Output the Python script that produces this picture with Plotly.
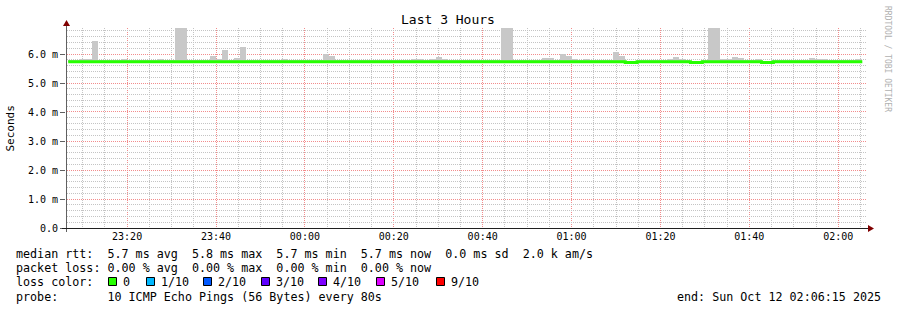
import math
import pandas as pd
import plotly.graph_objects as go

# ---------------- data ----------------
step_start = "2025-10-11 23:06:45"   # first 80 s step
step_seconds = 80
n_steps = 134

# median RTT per 80 s step (ms)
median_ms = [
    5.75, 5.75, 5.75, 5.75, 5.75, 5.75, 5.75, 5.75, 5.75, 5.75,
    5.75, 5.75, 5.75, 5.75, 5.75, 5.75, 5.75, 5.75, 5.75, 5.75,
    5.75, 5.75, 5.75, 5.75, 5.75, 5.75, 5.75, 5.75, 5.75, 5.75,
    5.75, 5.75, 5.75, 5.75, 5.75, 5.75, 5.75, 5.75, 5.75, 5.75,
    5.75, 5.75, 5.75, 5.75, 5.75, 5.75, 5.75, 5.75, 5.75, 5.75,
    5.75, 5.75, 5.75, 5.75, 5.75, 5.75, 5.75, 5.75, 5.75, 5.75,
    5.75, 5.75, 5.75, 5.75, 5.75, 5.75, 5.75, 5.75, 5.75, 5.75,
    5.75, 5.75, 5.75, 5.75, 5.75, 5.75, 5.75, 5.75, 5.75, 5.75,
    5.75, 5.75, 5.75, 5.75, 5.75, 5.75, 5.75, 5.75, 5.75, 5.75,
    5.75, 5.75, 5.75, 5.75, 5.72, 5.72, 5.75, 5.75, 5.75, 5.75,
    5.75, 5.75, 5.75, 5.75, 5.75, 5.72, 5.72, 5.75, 5.75, 5.75,
    5.75, 5.75, 5.75, 5.75, 5.75, 5.75, 5.75, 5.72, 5.72, 5.75,
    5.75, 5.75, 5.75, 5.75, 5.75, 5.75, 5.75, 5.75, 5.75, 5.75,
    5.75, 5.75, 5.75, 5.75,
]

# slowest ping per step (top of smoke, ms)
smoke_top_ms = [
    5.78, 5.78, 5.83, 5.83, 6.45, 5.78, 5.78, 5.78, 5.78, 5.83,
    5.78, 5.78, 5.78, 5.78, 5.78, 5.83, 5.78, 5.78, 7.20, 7.20,
    5.78, 5.78, 5.78, 5.78, 5.94, 5.83, 6.15, 5.78, 5.87, 6.25,
    5.78, 5.78, 5.78, 5.78, 5.78, 5.78, 5.83, 5.78, 5.78, 5.78,
    5.78, 5.78, 5.78, 6.01, 5.94, 5.78, 5.78, 5.78, 5.78, 5.78,
    5.78, 5.78, 5.78, 5.78, 5.78, 5.78, 5.78, 5.78, 5.83, 5.83,
    5.78, 5.83, 5.91, 5.83, 5.78, 5.78, 5.78, 5.78, 5.78, 5.78,
    5.78, 5.78, 5.78, 7.20, 7.20, 5.78, 5.78, 5.78, 5.78, 5.78,
    5.87, 5.87, 5.78, 6.03, 5.94, 5.83, 5.78, 5.83, 5.78, 5.78,
    5.78, 5.78, 6.07, 5.94, 5.75, 5.75, 5.78, 5.78, 5.78, 5.78,
    5.78, 5.83, 5.91, 5.83, 5.78, 5.75, 5.75, 5.78, 7.20, 7.20,
    5.83, 5.83, 5.91, 5.87, 5.78, 5.78, 5.83, 5.75, 5.75, 5.78,
    5.78, 5.78, 5.78, 5.78, 5.78, 5.87, 5.83, 5.83, 5.78, 5.78,
    5.78, 5.78, 5.78, 5.83,
]

y_tick_vals = [0, 1, 2, 3, 4, 5, 6]
y_tick_labels = ["0.0", "1.0 m", "2.0 m", "3.0 m", "4.0 m", "5.0 m", "6.0 m"]
x_tick_vals = ["2025-10-11 23:20", "2025-10-11 23:40", "2025-10-12 00:00",
               "2025-10-12 00:20", "2025-10-12 00:40", "2025-10-12 01:00",
               "2025-10-12 01:20", "2025-10-12 01:40", "2025-10-12 02:00"]
x_tick_labels = ["23:20", "23:40", "00:00", "00:20", "00:40", "01:00",
                 "01:20", "01:40", "02:00"]
x_range = ["2025-10-11 23:06:15", "2025-10-12 02:06:15"]

legend_lines = [
    "median rtt:  5.7 ms avg  5.8 ms max  5.7 ms min  5.7 ms now  0.0 ms sd  2.0 k am/s",
    "packet loss: 0.00 % avg  0.00 % max  0.00 % min  0.00 % now",
    "loss color:",
    "probe:       10 ICMP Echo Pings (56 Bytes) every 80s",
]
loss_labels = ["0", "1/10", "2/10", "3/10", "4/10", "5/10", "9/10"]
loss_colors = ["#26ff00", "#00b8ff", "#0059ff", "#5e00ff", "#7e00ff", "#dd00ff", "#ff0000"]
end_text = "end: Sun Oct 12 02:06:15 2025"

# ---------------- figure ----------------
W, H = 897, 310
L, R, T, B = 66, 866, 28, 229   # plot area in pixels
PX_PER_MS = 29.0                # vertical scale
Y0_PX = 228.5                   # pixel centre of value 0
FONT = "DejaVu Sans Mono"

y_lo = -(B - Y0_PX) / PX_PER_MS
y_hi = y_lo + (B - T) / PX_PER_MS

t0 = pd.Timestamp(x_range[0])
t1 = pd.Timestamp(x_range[1])


def px(x):
    return (x - L) / (R - L)


def py(y):
    return (B - y) / (B - T)


def time_to_px(t):
    return L + (pd.Timestamp(t) - t0) / (t1 - t0) * (R - L)


def val_to_px(v):
    return B - (v - y_lo) * PX_PER_MS


starts = pd.date_range(step_start, periods=n_steps, freq=f"{step_seconds}s")
centers = starts + pd.Timedelta(seconds=step_seconds / 2)
line_x = list(starts) + [starts[-1] + pd.Timedelta(seconds=step_seconds)]
line_y = median_ms + [median_ms[-1]]

fig = go.Figure()
fig.add_trace(go.Bar(
    x=centers, y=[t - m for t, m in zip(smoke_top_ms, median_ms)], base=median_ms,
    width=step_seconds * 1000, marker=dict(color="#c8c8c8", line=dict(width=0)),
    hoverinfo="skip", showlegend=False,
))
fig.add_trace(go.Scatter(
    x=line_x, y=line_y, mode="lines", line=dict(color="#26ff00", width=3, shape="hv"),
    hoverinfo="skip", showlegend=False,
))

fig.update_layout(
    width=W, height=H,
    margin=dict(l=L, r=W - R, t=T, b=H - B),
    paper_bgcolor="white", plot_bgcolor="white",
    bargap=0, showlegend=False,
    font=dict(family=FONT, size=10, color="#000000"),
    xaxis=dict(
        type="date", range=x_range,
        tickmode="array", tickvals=x_tick_vals, ticktext=x_tick_labels,
        showgrid=False, ticks="", showline=False, zeroline=False,
        tickfont=dict(family=FONT, size=10, color="#000000"),
    ),
    yaxis=dict(
        range=[y_lo, y_hi],
        tickmode="array", tickvals=y_tick_vals, ticktext=y_tick_labels,
        showgrid=False, ticks="outside", ticklen=5, tickcolor="#606060",
        showline=False, zeroline=False,
        tickfont=dict(family=FONT, size=10, color="#000000"),
    ),
)

major_grid = "#f28c8c"
minor_grid = "#c4c4c4"
dash = "1px,1px"

shapes = []
# grid, snapped to pixel centres (like rrdtool)
major_x = set(pd.to_datetime(x_tick_vals))
for t in pd.date_range("2025-10-11 23:10", "2025-10-12 02:05", freq="5min"):
    c = math.floor(time_to_px(t)) + 0.5
    col = major_grid if t in major_x else minor_grid
    shapes.append(dict(type="line", xref="paper", yref="paper", layer="below",
                       x0=px(c), x1=px(c), y0=py(T), y1=py(B - 1),
                       line=dict(color=col, width=1, dash=dash)))
for i in range(1, 35):
    v = i * 0.2
    c = math.floor(val_to_px(v) - 0.5) + 0.5
    col = major_grid if i % 5 == 0 else minor_grid
    shapes.append(dict(type="line", xref="paper", yref="paper", layer="below",
                       x0=px(L + 1), x1=px(R), y0=py(c), y1=py(c),
                       line=dict(color=col, width=1, dash=dash)))

# axis lines
shapes.append(dict(type="line", xref="paper", yref="paper",
                   x0=px(L + 0.5), x1=px(L + 0.5), y0=py(B + 3), y1=py(24),
                   line=dict(color="#606060", width=1)))
shapes.append(dict(type="line", xref="paper", yref="paper",
                   x0=px(L - 4), x1=px(869), y0=py(Y0_PX), y1=py(Y0_PX),
                   line=dict(color="#1f1f1f", width=1)))
# arrows
shapes.append(dict(type="path", xref="paper", yref="paper",
                   path=f"M {px(L-3)} {py(26)} L {px(L+4)} {py(26)} L {px(L+0.5)} {py(20)} Z",
                   fillcolor="#800000", line=dict(width=0)))
shapes.append(dict(type="path", xref="paper", yref="paper",
                   path=f"M {px(868)} {py(Y0_PX-3.5)} L {px(868)} {py(Y0_PX+3.5)} L {px(874)} {py(Y0_PX)} Z",
                   fillcolor="#800000", line=dict(width=0)))

annotations = []
annotations.append(dict(text="Last 3 Hours", x=px(448), y=py(20), xref="paper", yref="paper",
                        showarrow=False, xanchor="center", yanchor="middle",
                        font=dict(family=FONT, size=13, color="#000000")))
annotations.append(dict(text="Seconds", x=px(10.5), y=py(128), xref="paper", yref="paper",
                        showarrow=False, xanchor="center", yanchor="middle", textangle=-90,
                        font=dict(family=FONT, size=11, color="#000000")))
annotations.append(dict(text="RRDTOOL / TOBI OETIKER", x=px(887), y=py(59),
                        xref="paper", yref="paper", showarrow=False,
                        xanchor="center", yanchor="middle", textangle=90,
                        font=dict(family=FONT, size=8, color="#b0b0b0")))

line_px_y = [254, 268, 282, 296.5]
for text, yy in zip(legend_lines, line_px_y):
    annotations.append(dict(text=text.replace(" ", "&nbsp;"), x=px(15), y=py(yy),
                            xref="paper", yref="paper", showarrow=False,
                            xanchor="left", yanchor="middle", borderpad=0,
                            font=dict(family=FONT, size=11.7, color="#000000")))
annotations.append(dict(text=end_text.replace(" ", "&nbsp;"), x=px(882), y=py(296.5),
                        xref="paper", yref="paper", showarrow=False,
                        xanchor="right", yanchor="middle", borderpad=0,
                        font=dict(family=FONT, size=11.7, color="#000000")))

box_px = [108, 146, 203, 261, 318, 376, 436]
for bx, lab, col in zip(box_px, loss_labels, loss_colors):
    shapes.append(dict(type="rect", xref="paper", yref="paper",
                       x0=px(bx + 0.5), x1=px(bx + 8.5), y0=py(285.5), y1=py(277.5),
                       fillcolor=col, line=dict(color="#000000", width=1)))
    annotations.append(dict(text=lab, x=px(bx + 14), y=py(282), xref="paper", yref="paper",
                            showarrow=False, xanchor="left", yanchor="middle", borderpad=0,
                            font=dict(family=FONT, size=11.7, color="#000000")))

fig.update_layout(shapes=shapes, annotations=annotations)
fig.write_html("out.html")
